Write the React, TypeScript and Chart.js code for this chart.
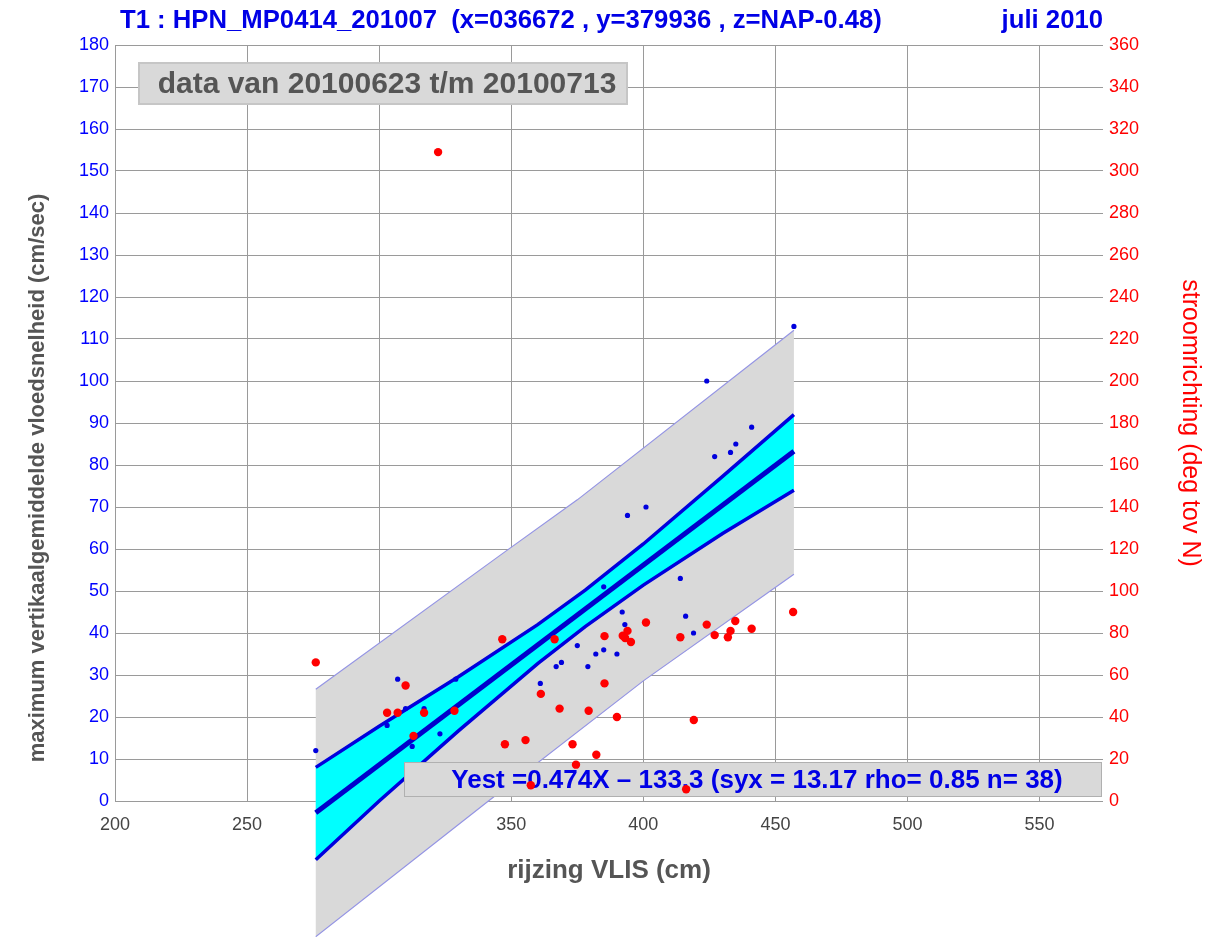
import React, { useEffect, useRef } from "react";
import { Chart, registerables } from "chart.js";

Chart.register(...registerables);

const FONT = '"Liberation Sans", Arial, sans-serif';

const titleText = "T1 : HPN_MP0414_201007  (x=036672 , y=379936 , z=NAP-0.48)";
const monthText = "juli 2010";
const periodText = "data van 20100623 t/m 20100713";
const equationText = "Yest =0.474X \u2013 133.3 (syx = 13.17 rho= 0.85 n= 38)";
const yTitle = "maximum vertikaalgemiddelde vloedsnelheid (cm/sec)";
const y2Title = "stroomrichting (deg tov N)";
const xTitle = "rijzing VLIS (cm)";

const xTicks = [200, 250, 300, 350, 400, 450, 500, 550];
const yTicks = [0, 10, 20, 30, 40, 50, 60, 70, 80, 90, 100, 110, 120, 130, 140, 150, 160, 170, 180];
const y2Ticks = [0, 20, 40, 60, 80, 100, 120, 140, 160, 180, 200, 220, 240, 260, 280, 300, 320, 340, 360];

// maximum vertical-mean flood velocity (cm/sec) vs rise VLIS (cm)
const speedX = [276, 307, 310, 317, 303, 323, 312.5, 329, 361, 367, 369, 375, 379, 382, 385, 390, 385, 392, 393, 394, 401, 414, 416, 419, 424, 427, 433, 435, 441, 457];
const speedY = [12, 29, 22, 22, 18, 16, 13, 29, 28, 32, 33, 37, 32, 35, 36, 35, 51, 45, 42, 68, 70, 53, 44, 40, 100, 82, 83, 85, 89, 113];

// current direction (deg) vs rise VLIS (cm)
const dirX = [276, 322.3, 310, 303, 307, 317, 328.5, 313, 346.6, 366.4, 385.3, 401, 392.2, 394, 393.1, 395.3, 385.3, 361.2, 368.3, 379.3, 390, 347.6, 355.4, 373.2, 382.2, 374.5, 357.4, 416.2, 419.1, 456.7, 414, 424, 427, 432, 433, 434.8, 441];
const dirDeg = [66, 309, 55, 42, 42, 42, 43, 31, 77, 77, 78.5, 85, 78.7, 81, 77.6, 75.7, 56, 51, 44, 43, 40, 27, 29, 27, 22, 17.3, 7.5, 5.6, 38.6, 90, 78, 84, 79, 78, 81, 85.7, 82];

// regression line
const fitX = [276, 457];
const fitY = [-2.8, 83.3];

// confidence band (cyan)
const confX = [276, 300, 330, 360, 378, 400, 430, 457];
const confUpper = [8, 17.8, 29.6, 42.0, 50.2, 61.2, 77.3, 92];
const confLower = [-14, 0.0, 16.7, 32.7, 41.5, 51.4, 63.7, 74];

// prediction band (grey)
const predUpperX = [276, 346, 375, 457];
const predUpper = [26.6, 58.6, 71.7, 112.1];
const predLowerX = [276, 341, 400, 457];
const predLower = [-32.3, -0.2, 28.6, 54.0];

const toPts = (xs: number[], ys: number[]) => xs.map((x, i) => ({ x, y: ys[i] }));

const bandPlugin = {
  id: "bands",
  beforeDatasetsDraw(chart: any) {
    const { ctx, scales } = chart;
    const xs = scales.x;
    const ys = scales.y;
    const path = (ux: number[], uy: number[], lx: number[], ly: number[]) => {
      ctx.beginPath();
      ux.forEach((v, i) => {
        const px = xs.getPixelForValue(v);
        const py = ys.getPixelForValue(uy[i]);
        if (i === 0) ctx.moveTo(px, py);
        else ctx.lineTo(px, py);
      });
      for (let i = lx.length - 1; i >= 0; i--) {
        ctx.lineTo(xs.getPixelForValue(lx[i]), ys.getPixelForValue(ly[i]));
      }
      ctx.closePath();
    };
    const edge = (ex: number[], ey: number[]) => {
      ctx.beginPath();
      ex.forEach((v, i) => {
        const px = xs.getPixelForValue(v);
        const py = ys.getPixelForValue(ey[i]);
        if (i === 0) ctx.moveTo(px, py);
        else ctx.lineTo(px, py);
      });
      ctx.stroke();
    };
    ctx.save();
    path(predUpperX, predUpper, predLowerX, predLower);
    ctx.fillStyle = "#d9d9d9";
    ctx.fill();
    ctx.strokeStyle = "#9494e4";
    ctx.lineWidth = 1.2;
    edge(predUpperX, predUpper);
    edge(predLowerX, predLower);
    path(confX, confUpper, confX, confLower);
    ctx.fillStyle = "#00ffff";
    ctx.fill();
    ctx.restore();
  },
  beforeDatasetDraw(chart: any, args: any) {
    if (chart.data.datasets[args.index].label !== "snelheid") return;
    const { ctx, chartArea } = chart;
    const w = 698;
    const h = 35;
    const left = chartArea.right - w - 1;
    const top = chartArea.bottom - h - 4;
    ctx.save();
    ctx.fillStyle = "#d9d9d9";
    ctx.fillRect(left, top, w, h);
    ctx.strokeStyle = "#b0b0b0";
    ctx.lineWidth = 1;
    ctx.strokeRect(left + 0.5, top + 0.5, w - 1, h - 1);
    ctx.fillStyle = "#0000e6";
    ctx.font = `bold 26px ${FONT}`;
    ctx.textAlign = "center";
    ctx.textBaseline = "middle";
    ctx.fillText(equationText, left + w / 2 + 4, top + h / 2 + 1);
    ctx.restore();
  },
  afterDatasetsDraw(chart: any) {
    const { ctx, chartArea } = chart;
    ctx.save();
    // period box
    const bl = chartArea.left + 23;
    const bt = chartArea.top + 17;
    const bw = 490;
    const bh = 43;
    ctx.fillStyle = "#d9d9d9";
    ctx.fillRect(bl, bt, bw, bh);
    ctx.strokeStyle = "#c6c6c6";
    ctx.lineWidth = 2;
    ctx.strokeRect(bl + 1, bt + 1, bw - 2, bh - 2);
    ctx.fillStyle = "#555555";
    ctx.font = `bold 30px ${FONT}`;
    ctx.textAlign = "center";
    ctx.textBaseline = "middle";
    ctx.fillText(periodText, bl + bw / 2 + 4, bt + bh / 2 + 1);

    // main title
    ctx.fillStyle = "#0000e6";
    ctx.font = `bold 25.7px ${FONT}`;
    ctx.textAlign = "left";
    ctx.fillText(titleText, 120, 21);
    ctx.textAlign = "right";
    ctx.fillText(monthText, chartArea.right, 21);

    // left axis title
    ctx.translate(38, 478);
    ctx.rotate(-Math.PI / 2);
    ctx.fillStyle = "#555555";
    ctx.font = `bold 22px ${FONT}`;
    ctx.textAlign = "center";
    ctx.fillText(yTitle, 0, 0);
    ctx.restore();
  },
};

export default function App() {
  const ref = useRef<HTMLCanvasElement | null>(null);
  useEffect(() => {
    if (!ref.current) return;
    const chart = new Chart(ref.current, {
      type: "scatter",
      data: {
        datasets: [
          {
            label: "stroomrichting",
            data: toPts(dirX, dirDeg),
            yAxisID: "y2",
            backgroundColor: "#ff0000",
            borderColor: "#ff0000",
            pointRadius: 4.2,
            pointBorderWidth: 0,
            order: 0,
          } as any,
          {
            label: "snelheid",
            data: toPts(speedX, speedY),
            yAxisID: "y",
            backgroundColor: "#0000dd",
            borderColor: "#0000dd",
            pointRadius: 2.6,
            pointBorderWidth: 0,
            order: 1,
          },
          {
            label: "Yest",
            data: toPts(fitX, fitY),
            yAxisID: "y",
            showLine: true,
            borderColor: "#0000cc",
            borderWidth: 5,
            pointRadius: 0,
            clip: false,
            order: 2,
          },
          {
            label: "conf upper",
            data: toPts(confX, confUpper),
            yAxisID: "y",
            showLine: true,
            borderColor: "#0000dd",
            borderWidth: 3.5,
            pointRadius: 0,
            clip: false,
            order: 3,
          },
          {
            label: "conf lower",
            data: toPts(confX, confLower),
            yAxisID: "y",
            showLine: true,
            borderColor: "#0000dd",
            borderWidth: 3.5,
            pointRadius: 0,
            clip: false,
            order: 4,
          },
        ],
      },
      options: {
        animation: false,
        responsive: false,
        events: [],
        layout: { padding: { top: 45, left: 0, right: 0, bottom: 0 } },
        plugins: {
          legend: { display: false },
          tooltip: { enabled: false },
          title: { display: false },
        },
        scales: {
          x: {
            type: "linear",
            min: 200,
            max: 574,
            afterBuildTicks: (s: any) => {
              s.ticks = xTicks.map((v) => ({ value: v }));
            },
            afterFit: (s: any) => {
              s.height = 136;
            },
            border: { display: false },
            grid: { color: "#9a9a9a", lineWidth: 1, drawTicks: false },
            ticks: { color: "#444444", padding: 13, font: { family: FONT, size: 18 } },
            title: {
              display: true,
              text: xTitle,
              color: "#555555",
              font: { family: FONT, size: 26, weight: "bold" },
              padding: { top: 0, bottom: 51 },
            },
          },
          y: {
            type: "linear",
            position: "left",
            min: 0,
            max: 180,
            afterBuildTicks: (s: any) => {
              s.ticks = yTicks.map((v) => ({ value: v }));
            },
            afterFit: (s: any) => {
              s.width = 115;
            },
            border: { display: false },
            grid: { color: "#9a9a9a", lineWidth: 1, drawTicks: false },
            ticks: { color: "#0000ff", padding: 6, font: { family: FONT, size: 18 } },
          },
          y2: {
            type: "linear",
            position: "right",
            min: 0,
            max: 360,
            afterBuildTicks: (s: any) => {
              s.ticks = y2Ticks.map((v) => ({ value: v }));
            },
            afterFit: (s: any) => {
              s.width = 127;
            },
            border: { display: false },
            grid: { drawOnChartArea: false, drawTicks: false },
            ticks: { color: "#ff0000", padding: 6, font: { family: FONT, size: 18 } },
            title: {
              display: true,
              text: y2Title,
              color: "#ff0000",
              font: { family: FONT, size: 25 },
              padding: { top: 25, bottom: 0 },
            },
          },
        },
      } as any,
      plugins: [bandPlugin],
    });
    return () => chart.destroy();
  }, []);

  return (
    <div style={{ position: "absolute", left: 0, top: 0, width: 1230, height: 937, background: "#ffffff" }}>
      <canvas ref={ref} width={1230} height={937} style={{ display: "block", width: 1230, height: 937 }} />
    </div>
  );
}
